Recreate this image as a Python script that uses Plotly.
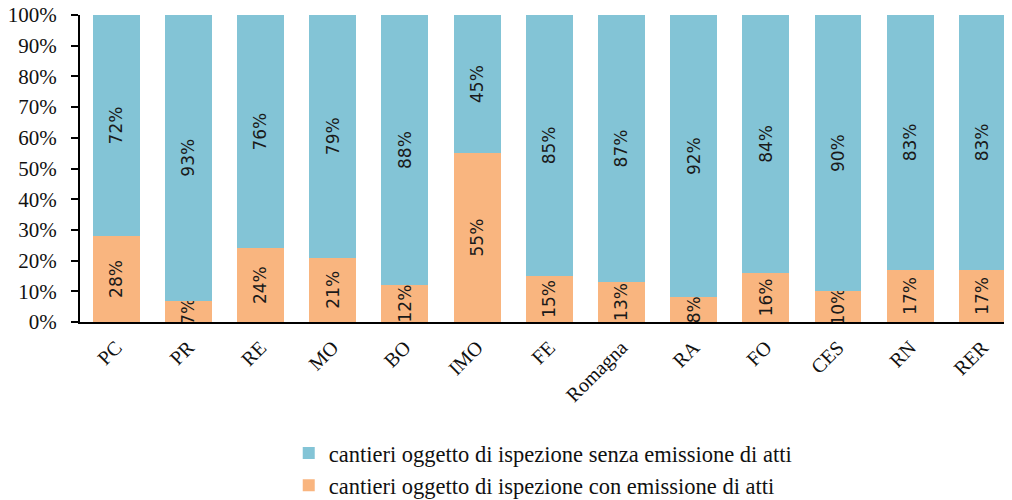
import plotly.graph_objects as go

categories = ["PC", "PR", "RE", "MO", "BO", "IMO", "FE", "Romagna", "RA", "FO", "CES", "RN", "RER"]
con_atti = [28, 7, 24, 21, 12, 55, 15, 13, 8, 16, 10, 17, 17]
senza_atti = [72, 93, 76, 79, 88, 45, 85, 87, 92, 84, 90, 83, 83]

name_con = "cantieri oggetto di ispezione con emissione di atti"
name_senza = "cantieri oggetto di ispezione senza emissione di atti"

col_orange = "#F9B57F"
col_blue = "#83C4D6"
serif = "Liberation Serif, Times New Roman, serif"
sans = "DejaVu Sans, Verdana, sans-serif"

fig = go.Figure()
fig.add_trace(go.Bar(
    x=categories, y=con_atti, name=name_con,
    marker=dict(color=col_orange, line=dict(width=0)),
    text=[f"{v}%" for v in con_atti], textposition="inside",
    insidetextanchor="middle", textangle=-90,
    textfont=dict(family=sans, size=17, color="#1a1a1a"),
))
fig.add_trace(go.Bar(
    x=categories, y=senza_atti, name=name_senza,
    marker=dict(color=col_blue, line=dict(width=0)),
    text=[f"{v}%" for v in senza_atti], textposition="inside",
    insidetextanchor="middle", textangle=-90,
    textfont=dict(family=sans, size=17, color="#1a1a1a"),
))

fig.update_layout(
    width=1004, height=492,
    margin=dict(l=72, r=0, t=7, b=178, autoexpand=False),
    barmode="stack", bargap=0.35,
    plot_bgcolor="white", paper_bgcolor="white",
    uniformtext=dict(mode="show", minsize=17),
    font=dict(family=serif, size=20, color="#111111"),
    legend=dict(
        orientation="v", traceorder="reversed",
        x=0.4965, xanchor="center", y=-0.358, yanchor="top",
        font=dict(family=serif, size=22.5, color="#111111"),
        itemwidth=30, tracegroupgap=0,
    ),
    showlegend=True,
)
fig.update_xaxes(
    range=[-0.5, 12.41], showline=True, linecolor="black", linewidth=2,
    ticks="", tickangle=-45, showgrid=False, zeroline=False,
    tickfont=dict(family=serif, size=20, color="#111111"),
    ticklabelstandoff=4, automargin=False, ticklabeloverflow="allow",
)
fig.update_yaxes(
    range=[0, 100], dtick=10, ticksuffix="%", showline=True,
    linecolor="black", linewidth=2, ticks="outside", ticklen=7,
    tickcolor="black", tickwidth=2, showgrid=False, zeroline=False,
    tickfont=dict(family=serif, size=21, color="#111111"),
    ticklabelstandoff=10, automargin=False, ticklabeloverflow="allow",
)

fig.write_html("out.html")
